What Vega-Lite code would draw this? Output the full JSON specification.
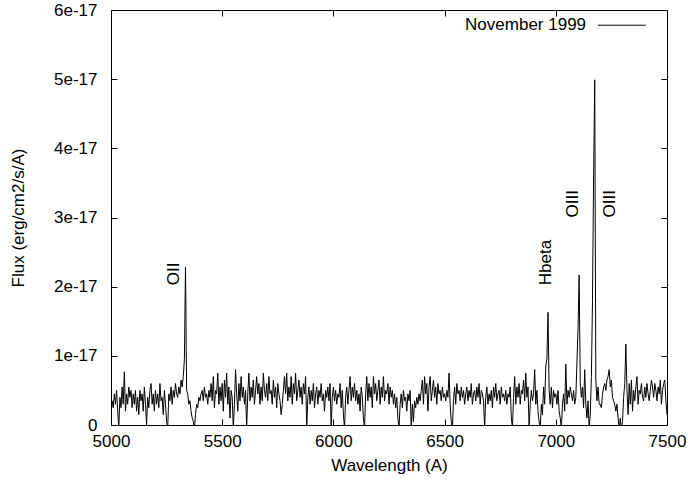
{
"$schema": "https://vega.github.io/schema/vega-lite/v6.json",
"width": 556, "height": 415,
"autosize": "none",
"padding": {"left": 111, "top": 10, "right": 21, "bottom": 58},
"background": "white",
"config": {
 "view": {"stroke": "black", "strokeWidth": 1},
 "font": "Liberation Sans",
 "axis": {"labelFont": "Liberation Sans", "labelFontSize": 17, "labelColor": "black", "titleFont": "Liberation Sans", "titleFontSize": 17, "titleFontWeight": "normal", "titleColor": "black", "tickColor": "black", "tickSize": -6, "tickWidth": 1, "domain": false, "grid": false, "labelFlush": false}
},
"datasets": {
 "spectrum": [
{"w":5000,"f":0.15},{"w":5005,"f":0.35},{"w":5010,"f":0.25},{"w":5015,"f":0.45},{"w":5020,"f":0.3},{"w":5025,"f":0.5},{"w":5030,"f":0.2},{"w":5035,"f":-0.05},{"w":5040,"f":0.4},{"w":5045,"f":0.25},{"w":5050,"f":0.55},{"w":5055,"f":0.3},{"w":5060,"f":0.77},{"w":5065,"f":0.2},{"w":5070,"f":0.45},{"w":5075,"f":0.3},{"w":5080,"f":0.55},{"w":5085,"f":0.4},{"w":5090,"f":0.5},{"w":5095,"f":0.25},
{"w":5100,"f":0.45},{"w":5105,"f":0.3},{"w":5110,"f":0.5},{"w":5115,"f":0.2},{"w":5120,"f":0.4},{"w":5125,"f":0.15},{"w":5130,"f":0.5},{"w":5135,"f":0.35},{"w":5140,"f":0.45},{"w":5145,"f":0.2},{"w":5150,"f":0.55},{"w":5155,"f":0.3},{"w":5160,"f":0.0},{"w":5165,"f":0.4},{"w":5170,"f":0.25},{"w":5175,"f":0.5},{"w":5180,"f":0.6},{"w":5185,"f":0.3},{"w":5190,"f":0.45},{"w":5195,"f":0.2},
{"w":5200,"f":0.5},{"w":5205,"f":0.3},{"w":5210,"f":0.45},{"w":5215,"f":0.25},{"w":5220,"f":0.6},{"w":5225,"f":0.35},{"w":5230,"f":0.4},{"w":5235,"f":0.15},{"w":5240,"f":0.5},{"w":5245,"f":0.3},{"w":5250,"f":0.05},{"w":5255,"f":-0.05},{"w":5260,"f":0.45},{"w":5265,"f":0.35},{"w":5270,"f":0.55},{"w":5275,"f":0.3},{"w":5280,"f":0.5},{"w":5285,"f":0.4},{"w":5290,"f":0.6},{"w":5295,"f":0.45},
{"w":5300,"f":0.4},{"w":5305,"f":0.55},{"w":5310,"f":0.45},{"w":5315,"f":0.65},{"w":5320,"f":0.55},{"w":5325,"f":0.7},{"w":5330,"f":0.95},{"w":5335,"f":2.28},{"w":5340,"f":0.5},{"w":5345,"f":0.45},{"w":5350,"f":0.3},{"w":5355,"f":0.35},{"w":5360,"f":0.2},{"w":5365,"f":0.1},{"w":5370,"f":0.05},{"w":5375,"f":-0.05},{"w":5380,"f":0.15},{"w":5385,"f":0.3},{"w":5390,"f":0.25},{"w":5395,"f":0.4},
{"w":5400,"f":0.35},{"w":5405,"f":0.45},{"w":5410,"f":0.5},{"w":5415,"f":0.35},{"w":5420,"f":0.55},{"w":5425,"f":0.4},{"w":5430,"f":0.45},{"w":5435,"f":0.3},{"w":5440,"f":0.5},{"w":5445,"f":0.4},{"w":5450,"f":0.6},{"w":5455,"f":0.35},{"w":5460,"f":0.7},{"w":5465,"f":0.25},{"w":5470,"f":0.5},{"w":5475,"f":0.45},{"w":5480,"f":0.75},{"w":5485,"f":0.3},{"w":5490,"f":0.55},{"w":5495,"f":0.35},
{"w":5500,"f":0.6},{"w":5505,"f":0.2},{"w":5510,"f":0.65},{"w":5515,"f":0.4},{"w":5520,"f":0.75},{"w":5525,"f":0.3},{"w":5530,"f":0.55},{"w":5535,"f":0.1},{"w":5540,"f":0.5},{"w":5545,"f":0.4},{"w":5550,"f":-0.05},{"w":5555,"f":0.3},{"w":5560,"f":0.8},{"w":5565,"f":0.45},{"w":5570,"f":0.2},{"w":5575,"f":0.6},{"w":5580,"f":0.35},{"w":5585,"f":0.7},{"w":5590,"f":0.4},{"w":5595,"f":0.55},
{"w":5600,"f":0.3},{"w":5605,"f":0.5},{"w":5610,"f":-0.05},{"w":5615,"f":0.45},{"w":5620,"f":0.75},{"w":5625,"f":0.35},{"w":5630,"f":0.55},{"w":5635,"f":0.4},{"w":5640,"f":0.65},{"w":5645,"f":0.3},{"w":5650,"f":0.5},{"w":5655,"f":0.7},{"w":5660,"f":0.45},{"w":5665,"f":0.6},{"w":5670,"f":0.3},{"w":5675,"f":0.55},{"w":5680,"f":0.35},{"w":5685,"f":0.75},{"w":5690,"f":0.5},{"w":5695,"f":0.4},
{"w":5700,"f":0.6},{"w":5705,"f":0.35},{"w":5710,"f":0.7},{"w":5715,"f":0.45},{"w":5720,"f":0.5},{"w":5725,"f":0.3},{"w":5730,"f":0.65},{"w":5735,"f":0.4},{"w":5740,"f":0.55},{"w":5745,"f":0.25},{"w":5750,"f":0.6},{"w":5755,"f":0.45},{"w":5760,"f":0.35},{"w":5765,"f":0.15},{"w":5770,"f":0.3},{"w":5775,"f":0.5},{"w":5780,"f":0.7},{"w":5785,"f":0.45},{"w":5790,"f":0.75},{"w":5795,"f":0.35},
{"w":5800,"f":0.55},{"w":5805,"f":0.4},{"w":5810,"f":0.7},{"w":5815,"f":0.3},{"w":5820,"f":0.6},{"w":5825,"f":0.45},{"w":5830,"f":0.75},{"w":5835,"f":0.35},{"w":5840,"f":0.5},{"w":5845,"f":0.65},{"w":5850,"f":0.4},{"w":5855,"f":0.55},{"w":5860,"f":0.3},{"w":5865,"f":0.6},{"w":5870,"f":0.45},{"w":5875,"f":0.7},{"w":5880,"f":-0.05},{"w":5885,"f":0.4},{"w":5890,"f":0.55},{"w":5895,"f":0.3},
{"w":5900,"f":0.5},{"w":5905,"f":0.35},{"w":5910,"f":0.6},{"w":5915,"f":0.25},{"w":5920,"f":0.45},{"w":5925,"f":0.55},{"w":5930,"f":0.3},{"w":5935,"f":0.5},{"w":5940,"f":0.4},{"w":5945,"f":0.6},{"w":5950,"f":0.35},{"w":5955,"f":0.45},{"w":5960,"f":0.2},{"w":5965,"f":0.5},{"w":5970,"f":0.4},{"w":5975,"f":0.55},{"w":5980,"f":0.35},{"w":5985,"f":0.6},{"w":5990,"f":-0.05},{"w":5995,"f":0.4},
{"w":6000,"f":0.55},{"w":6005,"f":0.35},{"w":6010,"f":0.5},{"w":6015,"f":0.3},{"w":6020,"f":0.45},{"w":6025,"f":0.4},{"w":6030,"f":0.6},{"w":6035,"f":0.25},{"w":6040,"f":0.5},{"w":6045,"f":0.15},{"w":6050,"f":-0.05},{"w":6055,"f":0.4},{"w":6060,"f":0.55},{"w":6065,"f":0.3},{"w":6070,"f":0.5},{"w":6075,"f":0.7},{"w":6080,"f":0.35},{"w":6085,"f":0.55},{"w":6090,"f":0.4},{"w":6095,"f":0.6},
{"w":6100,"f":0.35},{"w":6105,"f":0.5},{"w":6110,"f":0.3},{"w":6115,"f":0.45},{"w":6120,"f":0.2},{"w":6125,"f":0.55},{"w":6130,"f":0.4},{"w":6135,"f":0.1},{"w":6140,"f":-0.05},{"w":6145,"f":0.45},{"w":6150,"f":0.7},{"w":6155,"f":0.35},{"w":6160,"f":0.6},{"w":6165,"f":0.4},{"w":6170,"f":0.55},{"w":6175,"f":0.25},{"w":6180,"f":0.7},{"w":6185,"f":0.45},{"w":6190,"f":0.6},{"w":6195,"f":0.35},
{"w":6200,"f":0.5},{"w":6205,"f":0.65},{"w":6210,"f":0.3},{"w":6215,"f":0.55},{"w":6220,"f":0.4},{"w":6225,"f":0.7},{"w":6230,"f":0.35},{"w":6235,"f":0.5},{"w":6240,"f":0.45},{"w":6245,"f":0.6},{"w":6250,"f":0.3},{"w":6255,"f":0.55},{"w":6260,"f":0.4},{"w":6265,"f":0.5},{"w":6270,"f":0.3},{"w":6275,"f":0.45},{"w":6280,"f":0.25},{"w":6285,"f":0.4},{"w":6290,"f":0.1},{"w":6295,"f":-0.05},
{"w":6300,"f":0.3},{"w":6305,"f":0.45},{"w":6310,"f":0.25},{"w":6315,"f":0.5},{"w":6320,"f":0.35},{"w":6325,"f":0.4},{"w":6330,"f":0.2},{"w":6335,"f":0.45},{"w":6340,"f":0.35},{"w":6345,"f":0.5},{"w":6350,"f":-0.05},{"w":6355,"f":0.3},{"w":6360,"f":0.05},{"w":6365,"f":0.35},{"w":6370,"f":0.25},{"w":6375,"f":0.4},{"w":6380,"f":0.3},{"w":6385,"f":0.45},{"w":6390,"f":0.35},{"w":6395,"f":0.5},
{"w":6400,"f":0.65},{"w":6405,"f":0.3},{"w":6410,"f":0.7},{"w":6415,"f":0.45},{"w":6420,"f":0.6},{"w":6425,"f":0.2},{"w":6430,"f":0.55},{"w":6435,"f":0.7},{"w":6440,"f":0.35},{"w":6445,"f":0.5},{"w":6450,"f":0.65},{"w":6455,"f":0.4},{"w":6460,"f":0.55},{"w":6465,"f":0.3},{"w":6470,"f":0.6},{"w":6475,"f":0.45},{"w":6480,"f":0.5},{"w":6485,"f":0.35},{"w":6490,"f":0.55},{"w":6495,"f":0.4},
{"w":6500,"f":0.45},{"w":6505,"f":0.35},{"w":6510,"f":0.5},{"w":6515,"f":0.4},{"w":6520,"f":0.75},{"w":6525,"f":0.3},{"w":6530,"f":0.05},{"w":6535,"f":-0.05},{"w":6540,"f":0.35},{"w":6545,"f":0.55},{"w":6550,"f":0.3},{"w":6555,"f":0.6},{"w":6560,"f":0.45},{"w":6565,"f":0.5},{"w":6570,"f":0.35},{"w":6575,"f":0.55},{"w":6580,"f":0.4},{"w":6585,"f":0.5},{"w":6590,"f":0.3},{"w":6595,"f":0.45},
{"w":6600,"f":0.55},{"w":6605,"f":0.35},{"w":6610,"f":0.5},{"w":6615,"f":0.4},{"w":6620,"f":0.6},{"w":6625,"f":0.3},{"w":6630,"f":0.45},{"w":6635,"f":0.5},{"w":6640,"f":0.35},{"w":6645,"f":0.55},{"w":6650,"f":0.4},{"w":6655,"f":0.6},{"w":6660,"f":0.3},{"w":6665,"f":0.5},{"w":6670,"f":0.45},{"w":6675,"f":0.35},{"w":6680,"f":-0.05},{"w":6685,"f":0.4},{"w":6690,"f":0.55},{"w":6695,"f":0.3},
{"w":6700,"f":0.45},{"w":6705,"f":0.35},{"w":6710,"f":0.5},{"w":6715,"f":0.25},{"w":6720,"f":0.55},{"w":6725,"f":0.4},{"w":6730,"f":0.6},{"w":6735,"f":0.35},{"w":6740,"f":0.45},{"w":6745,"f":0.5},{"w":6750,"f":0.3},{"w":6755,"f":0.55},{"w":6760,"f":0.4},{"w":6765,"f":0.45},{"w":6770,"f":0.35},{"w":6775,"f":0.5},{"w":6780,"f":0.3},{"w":6785,"f":0.45},{"w":6790,"f":0.4},{"w":6795,"f":0.55},
{"w":6800,"f":0.1},{"w":6805,"f":-0.05},{"w":6810,"f":0.4},{"w":6815,"f":0.7},{"w":6820,"f":0.3},{"w":6825,"f":0.55},{"w":6830,"f":0.4},{"w":6835,"f":0.6},{"w":6840,"f":0.3},{"w":6845,"f":0.5},{"w":6850,"f":0.45},{"w":6855,"f":0.65},{"w":6860,"f":0.35},{"w":6865,"f":0.75},{"w":6870,"f":0.4},{"w":6875,"f":0.55},{"w":6880,"f":-0.05},{"w":6885,"f":0.3},{"w":6890,"f":0.5},{"w":6895,"f":0.35},
{"w":6900,"f":0.45},{"w":6905,"f":0.8},{"w":6910,"f":0.3},{"w":6915,"f":0.5},{"w":6920,"f":0.2},{"w":6925,"f":0.05},{"w":6930,"f":-0.05},{"w":6935,"f":0.3},{"w":6940,"f":0.15},{"w":6945,"f":0.55},{"w":6950,"f":0.3},{"w":6955,"f":0.85},{"w":6960,"f":0.95},{"w":6965,"f":1.63},{"w":6970,"f":0.5},{"w":6975,"f":0.3},{"w":6980,"f":0.55},{"w":6985,"f":0.25},{"w":6990,"f":0.5},{"w":6995,"f":0.4},
{"w":7000,"f":0.45},{"w":7005,"f":0.3},{"w":7010,"f":0.5},{"w":7015,"f":0.2},{"w":7020,"f":0.1},{"w":7025,"f":-0.05},{"w":7030,"f":0.3},{"w":7035,"f":0.45},{"w":7040,"f":0.2},{"w":7045,"f":0.88},{"w":7050,"f":0.3},{"w":7055,"f":0.5},{"w":7060,"f":0.4},{"w":7065,"f":0.55},{"w":7070,"f":0.45},{"w":7075,"f":0.35},{"w":7080,"f":0.5},{"w":7085,"f":0.3},{"w":7090,"f":0.4},{"w":7095,"f":0.9},
{"w":7100,"f":1.4},{"w":7105,"f":2.17},{"w":7110,"f":0.6},{"w":7115,"f":0.4},{"w":7120,"f":0.55},{"w":7125,"f":0.25},{"w":7130,"f":0.8},{"w":7135,"f":0.3},{"w":7140,"f":0.1},{"w":7145,"f":0.35},{"w":7150,"f":-0.05},{"w":7155,"f":0.15},{"w":7160,"f":0.7},{"w":7165,"f":1.8},{"w":7170,"f":3.6},{"w":7175,"f":4.99},{"w":7180,"f":0.65},{"w":7185,"f":0.35},{"w":7190,"f":0.55},{"w":7195,"f":0.3},
{"w":7200,"f":0.3},{"w":7205,"f":0.25},{"w":7210,"f":0.45},{"w":7215,"f":0.55},{"w":7220,"f":0.6},{"w":7225,"f":0.5},{"w":7230,"f":0.65},{"w":7235,"f":0.7},{"w":7240,"f":0.8},{"w":7245,"f":0.55},{"w":7250,"f":0.65},{"w":7255,"f":0.4},{"w":7260,"f":0.35},{"w":7265,"f":0.3},{"w":7270,"f":0.2},{"w":7275,"f":0.3},{"w":7280,"f":0.1},{"w":7285,"f":-0.05},{"w":7290,"f":0.1},{"w":7295,"f":-0.05},
{"w":7300,"f":0.05},{"w":7305,"f":0.4},{"w":7310,"f":0.6},{"w":7315,"f":1.17},{"w":7320,"f":0.5},{"w":7325,"f":0.15},{"w":7330,"f":0.6},{"w":7335,"f":0.3},{"w":7340,"f":0.65},{"w":7345,"f":0.2},{"w":7350,"f":0.5},{"w":7355,"f":0.35},{"w":7360,"f":0.55},{"w":7365,"f":0.7},{"w":7370,"f":0.3},{"w":7375,"f":0.5},{"w":7380,"f":0.45},{"w":7385,"f":0.6},{"w":7390,"f":0.4},{"w":7395,"f":0.35},
{"w":7400,"f":0.55},{"w":7405,"f":0.4},{"w":7410,"f":0.6},{"w":7415,"f":0.45},{"w":7420,"f":0.35},{"w":7425,"f":0.5},{"w":7430,"f":0.65},{"w":7435,"f":0.55},{"w":7440,"f":0.4},{"w":7445,"f":0.6},{"w":7450,"f":0.5},{"w":7455,"f":0.35},{"w":7460,"f":0.55},{"w":7465,"f":0.45},{"w":7470,"f":0.65},{"w":7475,"f":0.3},{"w":7480,"f":0.5},{"w":7485,"f":0.6},{"w":7490,"f":0.65},{"w":7495,"f":0.35},{"w":7500,"f":0.15}
 ],
 "lines": [
  {"label": "OII", "w": 5283, "f": 2.02},
  {"label": "Hbeta", "w": 6956, "f": 2.02},
  {"label": "OIII", "w": 7077, "f": 3.0},
  {"label": "OIII", "w": 7243, "f": 3.0}
 ],
 "legend": [
  {"label": "November 1999", "w": 7136, "w2": 7189, "w3": 7405, "f": 5.78}
 ]
},
"layer": [
 {
  "data": {"name": "spectrum"},
  "mark": {"type": "line", "color": "black", "strokeWidth": 1, "clip": true, "interpolate": "linear"},
  "encoding": {
   "x": {"field": "w", "type": "quantitative", "scale": {"domain": [5000, 7500], "nice": false, "zero": false},
    "axis": {"orient": "bottom", "title": "Wavelength (A)", "values": [5000, 5500, 6000, 6500, 7000, 7500], "format": "d", "labelPadding": 14, "titlePadding": 8}},
   "y": {"field": "f", "type": "quantitative", "scale": {"domain": [0, 6], "nice": false},
    "axis": {"orient": "left", "title": "Flux (erg/cm2/s/A)", "values": [0, 1, 2, 3, 4, 5, 6], "labelExpr": "datum.value == 0 ? '0' : datum.value + 'e-17'", "labelPadding": 20, "titlePadding": 26}}
  }
 },
 {
  "data": {"name": "lines"},
  "mark": {"type": "text", "angle": 270, "align": "left", "baseline": "middle", "fontSize": 17, "font": "Liberation Sans", "color": "black"},
  "encoding": {
   "x": {"field": "w", "type": "quantitative", "axis": {"orient": "top", "labels": false, "title": null, "values": [5000, 5500, 6000, 6500, 7000, 7500]}},
   "y": {"field": "f", "type": "quantitative", "axis": {"orient": "right", "labels": false, "title": null, "values": [0, 1, 2, 3, 4, 5, 6]}},
   "text": {"field": "label"}
  }
 },
 {
  "data": {"name": "legend"},
  "mark": {"type": "text", "align": "right", "baseline": "middle", "fontSize": 17, "font": "Liberation Sans", "color": "black"},
  "encoding": {
   "x": {"field": "w", "type": "quantitative", "axis": null},
   "y": {"field": "f", "type": "quantitative", "axis": null},
   "text": {"field": "label"}
  }
 },
 {
  "data": {"name": "legend"},
  "mark": {"type": "rule", "color": "black", "strokeWidth": 1},
  "encoding": {
   "x": {"field": "w2", "type": "quantitative", "axis": null},
   "x2": {"field": "w3"},
   "y": {"field": "f", "type": "quantitative", "axis": null}
  }
 }
],
"resolve": {"axis": {"x": "independent", "y": "independent"}}
}
